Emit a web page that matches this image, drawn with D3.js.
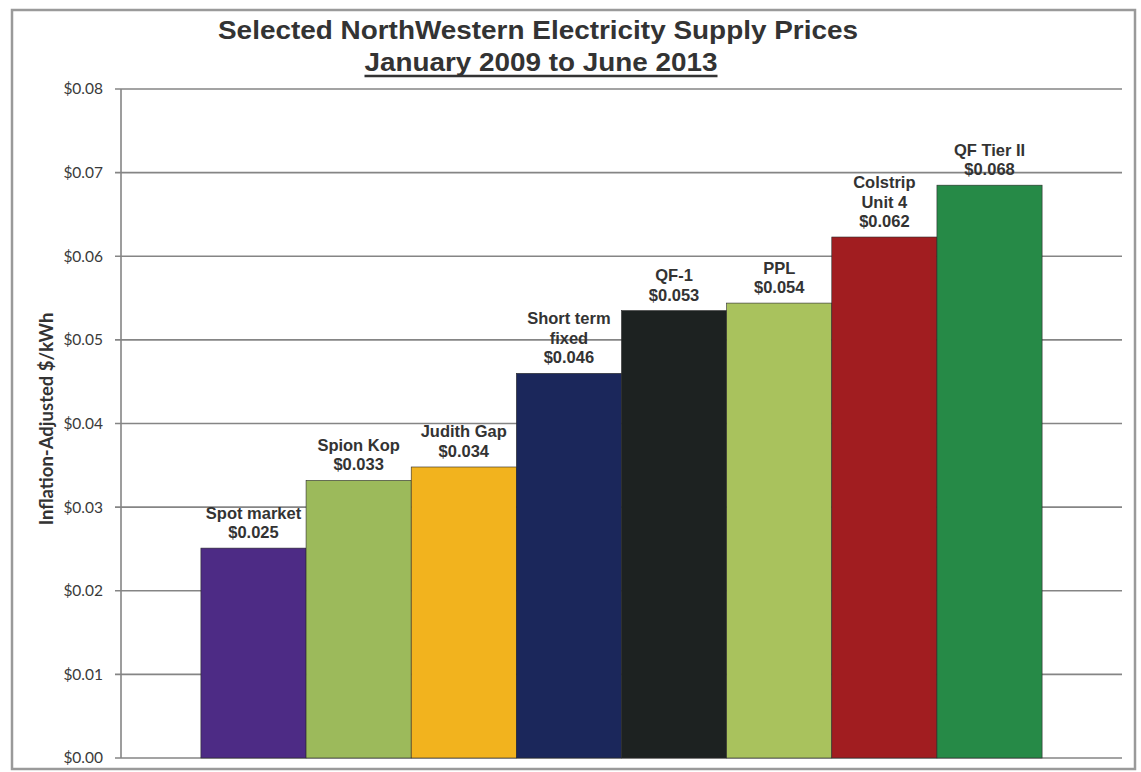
<!DOCTYPE html>
<html>
<head>
<meta charset="utf-8">
<script src="https://cdn.jsdelivr.net/npm/d3@7"></script>
<style>
  body { margin: 0; background: #fff; }
  svg { display: block; }
</style>
</head>
<body>
<svg id="chart" width="1141" height="772"></svg>
<script>
// data
const categories = ["Spot market", "Spion Kop", "Judith Gap", "Short term fixed", "QF-1", "PPL", "Colstrip Unit 4", "QF Tier II"];
const labelLines = [["Spot market"], ["Spion Kop"], ["Judith Gap"], ["Short term", "fixed"], ["QF-1"], ["PPL"], ["Colstrip", "Unit 4"], ["QF Tier II"]];
const prices = [0.0251, 0.0332, 0.0348, 0.046, 0.0535, 0.0544, 0.0623, 0.0685];
const priceLabels = ["$0.025", "$0.033", "$0.034", "$0.046", "$0.053", "$0.054", "$0.062", "$0.068"];
const barColors = ["#4d2b85", "#9cba5b", "#f2b31e", "#1b275b", "#1d2221", "#a9c25d", "#a11d20", "#268a47"];
const yTicks = [0, 0.01, 0.02, 0.03, 0.04, 0.05, 0.06, 0.07, 0.08];

const svg = d3.select("#chart");
const plot = {left: 121, right: 1122, top: 89, bottom: 758};

// outer frame of the scanned chart
svg.append("rect")
    .attr("x", 12).attr("y", 10)
    .attr("width", 1123).attr("height", 759)
    .attr("fill", "none")
    .attr("stroke", "#9a9a9a")
    .attr("stroke-width", 2.5);

const x = d3.scaleBand()
    .domain(categories)
    .range([plot.left, plot.right])
    .paddingInner(0)
    .paddingOuter(0.76);

const y = d3.scaleLinear()
    .domain([0, 0.08])
    .range([plot.bottom, plot.top]);

// gridlines + ticks
svg.append("g")
    .selectAll("line")
    .data(yTicks)
    .join("line")
    .attr("x1", plot.left - 6)
    .attr("x2", plot.right)
    .attr("y1", d => y(d))
    .attr("y2", d => y(d))
    .attr("stroke", "#858585")
    .attr("stroke-width", 1.6);

svg.append("line")
    .attr("x1", plot.left).attr("x2", plot.left)
    .attr("y1", plot.top).attr("y2", plot.bottom)
    .attr("stroke", "#858585")
    .attr("stroke-width", 1.6);

svg.append("g")
    .selectAll("text")
    .data(yTicks)
    .join("text")
    .attr("x", 103)
    .attr("y", d => y(d))
    .attr("dy", "0.35em")
    .attr("text-anchor", "end")
    .style("font-family", "Lato, 'Open Sans', sans-serif")
    .style("font-size", "15.5px")
    .style("fill", "#3a3a3a")
    .text(d => "$" + d3.format(".2f")(d));

// bars
svg.append("g")
    .selectAll("rect")
    .data(prices)
    .join("rect")
    .attr("x", (d, i) => x(categories[i]))
    .attr("y", d => y(d))
    .attr("width", x.bandwidth())
    .attr("height", d => y(0) - y(d))
    .attr("fill", (d, i) => barColors[i])
    .attr("stroke", "#2a2a2a")
    .attr("stroke-width", 0.6);

// bar labels: name lines then price, bottom line sits just above the bar
const lineH = 19.5;
svg.append("g")
    .selectAll("text")
    .data(prices)
    .join("text")
    .attr("text-anchor", "middle")
    .style("font-family", "'Liberation Sans', Arial, sans-serif")
    .style("font-weight", "bold")
    .style("font-size", "16.5px")
    .style("fill", "#333")
    .each(function (d, i) {
        const lines = labelLines[i].concat([priceLabels[i]]);
        const cx = x(categories[i]) + x.bandwidth() / 2;
        const base = y(d) - 10;
        d3.select(this)
            .selectAll("tspan")
            .data(lines)
            .join("tspan")
            .attr("x", cx)
            .attr("y", (t, j) => base - (lines.length - 1 - j) * lineH)
            .text(t => t);
    });

// y axis title
svg.append("text")
    .attr("transform", "translate(53,419) rotate(-90)")
    .attr("text-anchor", "middle")
    .style("font-family", "Lato, 'Open Sans', sans-serif")
    .style("font-weight", "bold")
    .style("font-size", "18.5px")
    .style("fill", "#333")
    .text("Inflation-Adjusted $/kWh");

// title, stretched to the width of the scanned one
svg.append("text")
    .attr("x", 538).attr("y", 39)
    .attr("text-anchor", "middle")
    .attr("textLength", 640)
    .attr("lengthAdjust", "spacingAndGlyphs")
    .style("font-family", "'Liberation Sans', Arial, sans-serif")
    .style("font-weight", "bold")
    .style("font-size", "26px")
    .style("fill", "#333")
    .text("Selected NorthWestern Electricity Supply Prices");

const sub = svg.append("text")
    .attr("x", 541).attr("y", 71)
    .attr("text-anchor", "middle")
    .attr("textLength", 353)
    .attr("lengthAdjust", "spacingAndGlyphs")
    .style("font-family", "'Liberation Sans', Arial, sans-serif")
    .style("font-weight", "bold")
    .style("font-size", "26px")
    .style("fill", "#333")
    .text("January 2009 to June 2013");

svg.append("line")
    .attr("x1", 541 - 353 / 2).attr("x2", 541 + 353 / 2)
    .attr("y1", 76).attr("y2", 76)
    .attr("stroke", "#333")
    .attr("stroke-width", 2.4);
</script>
</body>
</html>
